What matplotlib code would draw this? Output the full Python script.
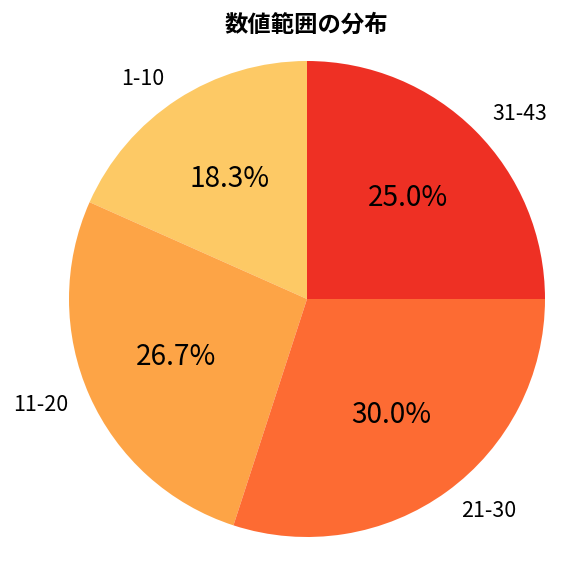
import matplotlib
matplotlib.use('Agg')
import matplotlib.pyplot as plt

plt.rcParams['font.family'] = ['Noto Sans CJK JP', 'DejaVu Sans']

labels = ["1-10", "11-20", "21-30", "31-43"]
counts = [11, 16, 18, 15]
colors = ["#fdc965", "#fda446", "#fd6b33", "#ee3024"]

fig = plt.figure(figsize=(6, 6), dpi=96)
# pie centred at about (307, 299) px, radius about 238 px
ax = fig.add_axes([(307 - 238) / 576, (576 - 299 - 238) / 576, 476 / 576, 476 / 576])
wedges, texts, autotexts = ax.pie(counts, labels=labels, colors=colors, startangle=90,
                                  autopct="%1.1f%%", pctdistance=0.6, labeldistance=1.1,
                                  textprops={"fontsize": 16})
for t in autotexts:
    t.set_fontsize(21)
ax.set_xlim(-1, 1)
ax.set_ylim(-1, 1)
ax.set_aspect("equal")
# title sits over the pie centre, not the figure centre
fig.text(306 / 576, 1 - 25 / 576, "数値範囲の分布", fontsize=17.5, fontweight="bold",
         ha="center", va="center")
plt.savefig("out.png", dpi=96)
